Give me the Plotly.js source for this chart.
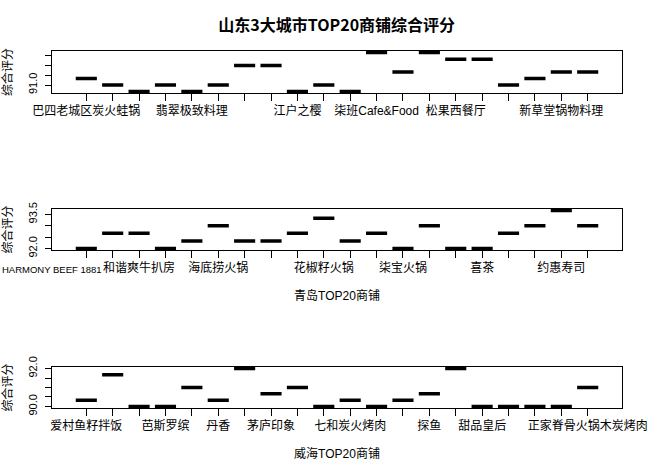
<!DOCTYPE html>
<html>
<head>
<meta charset="utf-8">
<script src="https://cdn.plot.ly/plotly-3.0.1.min.js"></script>
<style>html,body{margin:0;padding:0;background:#fff;}</style>
</head>
<body>
<div id="chart" style="width:648px;height:473px;"></div>
<script>
// ---- data ----
var chartTitle = "山东3大城市TOP20商铺综合评分";
var yTitle = "综合评分";

// Panel 1 (济南) — only labels that are visible in the reference are named
var jinanLabels = ["巴四老城区炭火蛙锅","","","","翡翠极致料理","","","","江户之樱","",
                   "","柒班Cafe&Food","","","松果西餐厅","","","","新草堂锅物料理",""];
var jinanScores = [91.33,91.0,90.67,91.0,90.67,91.0,92.0,92.0,90.67,91.0,
                   90.67,92.67,91.67,92.67,92.33,92.33,91.0,91.33,91.67,91.67];
var jinanTicks = [91.0,91.5,92.0,92.5];
var jinanTickText = ["91.0","","",""];

// Panel 2 (青岛)
var qingdaoTitle = "青岛TOP20商铺";
var qingdaoLabels = ["HARMONY BEEF 1881","","和谐爽牛扒房","","","海底捞火锅","","","","花椒籽火锅",
                     "","","柒宝火锅","","","喜茶","","","约惠寿司",""];
var qingdaoScores = [92.0,92.67,92.67,92.0,92.33,93.0,92.33,92.33,92.67,93.33,
                     92.33,92.67,92.0,93.0,92.0,92.0,92.67,93.0,93.67,93.0];
var qingdaoTicks = [92.0,92.5,93.0,93.5];
var qingdaoTickText = ["92.0","","","93.5"];

// Panel 3 (威海)
var weihaiTitle = "威海TOP20商铺";
var weihaiLabels = ["爱村鱼籽拌饭","","","芭斯罗缤","","丹香","","茅庐印象","","",
                    "七和炭火烤肉","","","探鱼","","甜品皇后","","","","正家脊骨火锅木炭烤肉"];
var weihaiScores = [90.33,91.67,90.0,90.0,91.0,90.33,92.0,90.67,91.0,90.0,
                    90.33,90.0,90.33,90.67,92.0,90.0,90.0,90.0,90.0,91.0];
var weihaiTicks = [90.0,90.5,91.0,91.5,92.0];
var weihaiTickText = ["90.0","","","","92.0"];

// ---- drawing ----
var FONT = "Liberation Sans, Arial, 'Noto Sans CJK SC', sans-serif";
function positions(labels){ return labels.map(function(_,i){ return i+1; }); }

function boxTrace(labels, vals, xa, ya){
  return {
    type:'box', x: positions(labels), y: vals, xaxis: xa, yaxis: ya,
    width: 0.8, boxpoints: false, whiskerwidth: 0,
    line: {color:'#000', width:3.5}, fillcolor:'rgba(0,0,0,0)',
    hoverinfo:'skip', showlegend:false
  };
}
function yrange(vals){
  var mn = Math.min.apply(null, vals), mx = Math.max.apply(null, vals);
  var d = (mx - mn) * 0.04;
  return [mn - d, mx + d];
}
function xAxis(labels, titleText, anchor){
  return {
    domain:[0,1], anchor: anchor, range:[-0.3, 21.3],
    tickmode:'array', tickvals: positions(labels), ticktext: labels.slice(), tickangle:0,
    ticks:'outside', ticklen:7, tickcolor:'#000', tickwidth:1,
    showline:true, mirror:true, linecolor:'#000', linewidth:1,
    showgrid:false, zeroline:false, fixedrange:true,
    tickfont:{family:FONT, size:12, color:'#000'},
    title: titleText ? {text:titleText, font:{family:FONT, size:12, color:'#000'}, standoff:17} : {text:''}
  };
}
function yAxis(vals, ticks, tickText, domain, anchor){
  return {
    domain: domain, anchor: anchor, range: yrange(vals),
    tickmode:'array', tickvals: ticks, ticktext: tickText, tickangle:-90,
    ticks:'outside', ticklen:6, tickcolor:'#000', tickwidth:1, ticklabelstandoff:4,
    showline:true, mirror:true, linecolor:'#000', linewidth:1,
    showgrid:false, zeroline:false, fixedrange:true,
    tickfont:{family:FONT, size:11, color:'#000'},
    title:{text:yTitle, font:{family:FONT, size:12, color:'#000'}, standoff:14}
  };
}

var data = [
  boxTrace(jinanLabels, jinanScores, 'x', 'y'),
  boxTrace(qingdaoLabels, qingdaoScores, 'x2', 'y2'),
  boxTrace(weihaiLabels, weihaiScores, 'x3', 'y3')
];

// first 青岛 label is drawn from the left edge of the page (as in the reference)
var xa2 = xAxis(qingdaoLabels, qingdaoTitle, 'y2');
xa2.ticktext[0] = "";

var layout = {
  width:648, height:473,
  margin:{l:52, r:26, t:51, b:65},
  paper_bgcolor:'#fff', plot_bgcolor:'#fff',
  showlegend:false,
  title:{text:chartTitle, x:0.5196, xanchor:'center', y:1-25/473, yanchor:'middle',
         font:{family:"'Noto Sans CJK SC', sans-serif", size:16, color:'#000', weight:'bold'}},
  xaxis: xAxis(jinanLabels, null, 'y'),
  yaxis: yAxis(jinanScores, jinanTicks, jinanTickText, [0.8824,1], 'x'),
  xaxis2: xa2,
  yaxis2: yAxis(qingdaoScores, qingdaoTicks, qingdaoTickText, [0.4426,0.5574], 'x2'),
  xaxis3: xAxis(weihaiLabels, weihaiTitle, 'y3'),
  yaxis3: yAxis(weihaiScores, weihaiTicks, weihaiTickText, [0,0.1148], 'x3'),
  annotations:[{
    text: qingdaoLabels[0], xref:'paper', yref:'y2 domain', x:0, y:0,
    xanchor:'left', yanchor:'top', xshift:-51, yshift:-13, showarrow:false, borderpad:0,
    font:{family:FONT, size:9.5, color:'#000'}
  }]
};

Plotly.newPlot('chart', data, layout, {staticPlot:true, displayModeBar:false});
</script>
</body>
</html>
